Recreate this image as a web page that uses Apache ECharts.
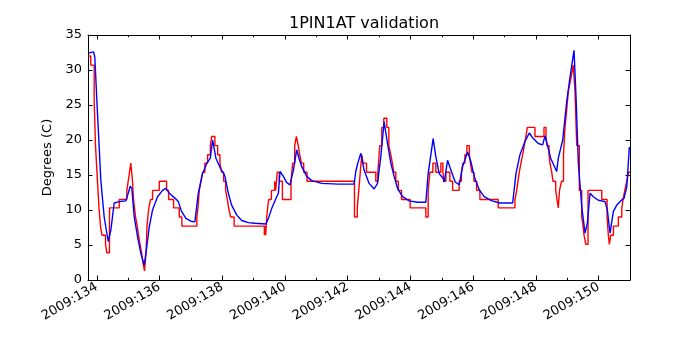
<!DOCTYPE html>
<html>
<head>
<meta charset="utf-8">
<script src="https://cdn.jsdelivr.net/npm/echarts@6/dist/echarts.min.js"></script>
<style>
  html, body { margin: 0; padding: 0; background: #fff; }
  #chart { width: 700px; height: 350px; }
</style>
</head>
<body>
<div id="chart"></div>
<script>
// day-of-year 2009 and temperature (deg C)
const blueDay = [133.735, 133.895, 133.936, 134.022, 134.128, 134.236, 134.364, 134.447, 134.555, 134.715,
  134.926, 135.002, 135.066, 135.117, 135.194, 135.299, 135.404, 135.513, 135.596, 135.673,
  135.778, 135.937, 136.097, 136.202, 136.311, 136.49, 136.598, 136.703, 136.841, 137.0,
  137.128, 137.236, 137.374, 137.511, 137.62, 137.693, 137.798, 137.939, 138.044, 138.086,
  138.194, 138.299, 138.459, 138.619, 138.832, 139.043, 139.394, 139.471, 139.576, 139.736,
  139.79, 139.841, 139.95, 140.055, 140.16, 140.269, 140.374, 140.447, 140.534, 140.693,
  140.853, 141.172, 141.705, 142.203, 142.257, 142.321, 142.417, 142.522, 142.682, 142.841,
  142.95, 143.055, 143.161, 143.269, 143.374, 143.48, 143.588, 143.748, 143.958, 144.227,
  144.491, 144.565, 144.724, 144.811, 144.916, 145.044, 145.076, 145.184, 145.29, 145.427,
  145.554, 145.663, 145.823, 145.928, 146.033, 146.193, 146.352, 146.598, 146.853, 147.259,
  147.364, 147.492, 147.651, 147.789, 147.916, 148.076, 148.216, 148.29, 148.363, 148.472,
  148.663, 148.714, 148.855, 148.982, 149.088, 149.215, 149.279, 149.353, 149.461, 149.567,
  149.64, 149.726, 149.831, 149.991, 150.205, 150.278, 150.364, 150.47, 150.578, 150.706,
  150.811, 150.897, 150.98];
const blueTemp = [32.4, 32.6, 31.9, 23.9, 14.3, 9.0, 5.5, 7.1, 11.0, 11.2,
  11.3, 12.4, 13.4, 13.1, 9.0, 6.2, 3.8, 2.1, 4.8, 7.6,
  10.0, 11.9, 12.8, 13.1, 12.4, 11.7, 11.2, 9.8, 8.8, 8.4,
  8.3, 12.4, 15.2, 16.7, 17.4, 20.0, 17.4, 16.0, 15.2, 14.8,
  12.4, 10.7, 9.3, 8.5, 8.2, 8.1, 8.0, 8.8, 10.2, 11.9,
  12.4, 15.5, 14.8, 13.9, 13.6, 15.7, 18.6, 17.4, 16.2, 14.8,
  14.2, 13.8, 13.7, 13.7, 15.5, 16.7, 18.1, 15.7, 13.8, 13.0,
  13.8, 17.6, 22.6, 19.5, 16.7, 14.8, 13.1, 11.9, 11.3, 11.1,
  11.1, 15.2, 20.2, 17.6, 15.2, 14.5, 14.0, 17.1, 15.7, 14.0,
  13.6, 16.2, 18.3, 16.9, 14.8, 12.9, 11.9, 11.3, 11.0, 11.0,
  15.2, 17.9, 19.8, 21.0, 20.2, 19.5, 19.3, 20.6, 19.3, 17.4,
  15.5, 17.4, 20.0, 25.5, 29.0, 32.8, 26.2, 16.7, 10.5, 6.7,
  8.1, 12.4, 11.9, 11.4, 11.2, 10.0, 6.7, 9.8, 10.7, 11.3,
  11.7, 13.3, 19.0];

// red trace is quantized telemetry, each point starts a new level
const redDay = [133.72, 133.808, 133.917, 133.959, 134.022, 134.07, 134.118, 134.166, 134.198, 134.278,
  134.319, 134.405, 134.715, 134.958, 135.002, 135.044, 135.085, 135.139, 135.171, 135.203,
  135.235, 135.289, 135.331, 135.379, 135.427, 135.468, 135.522, 135.57, 135.602, 135.628,
  135.66, 135.714, 135.778, 135.992, 136.225, 136.289, 136.448, 136.63, 136.713, 137.192,
  137.224, 137.246, 137.268, 137.319, 137.374, 137.447, 137.533, 137.62, 137.661, 137.766,
  137.853, 137.926, 137.98, 138.044, 138.108, 138.162, 138.204, 138.267, 138.379, 139.343,
  139.369, 139.385, 139.417, 139.448, 139.48, 139.567, 139.672, 139.704, 139.752, 139.816,
  139.918, 140.192, 140.246, 140.31, 140.365, 140.422, 140.47, 140.524, 140.597, 140.703,
  142.216, 142.305, 142.353, 142.401, 142.449, 142.49, 142.599, 142.896, 142.96, 143.023,
  143.087, 143.151, 143.247, 143.311, 143.374, 143.422, 143.47, 143.534, 143.614, 143.716,
  143.99, 144.491, 144.565, 144.619, 144.715, 144.811, 144.97, 145.034, 145.066, 145.13,
  145.257, 145.344, 145.554, 145.625, 145.672, 145.736, 145.8, 145.88, 145.912, 145.96,
  146.024, 146.11, 146.215, 146.799, 147.332, 147.387, 147.428, 147.47, 147.524, 147.578,
  147.629, 147.683, 147.725, 147.97, 148.258, 148.322, 148.354, 148.418, 148.449, 148.504,
  148.545, 148.631, 148.673, 148.714, 148.753, 148.816, 148.88, 148.928, 148.982, 149.033,
  149.088, 149.142, 149.193, 149.247, 149.302, 149.384, 149.461, 149.503, 149.535, 149.589,
  149.662, 150.099, 150.269, 150.31, 150.342, 150.387, 150.47, 150.629, 150.738, 150.779,
  150.834, 150.897, 150.955, 151.0];
const redTemp = [32.0, 30.7, 25.6, 19.2, 14.1, 10.3, 7.7, 6.4, 6.4, 5.1,
  3.9, 10.3, 11.5, 12.8, 14.1, 15.4, 16.7, 14.1, 11.5, 10.3,
  9.0, 7.7, 6.4, 5.1, 3.9, 2.6, 1.3, 3.9, 7.7, 9.0,
  10.3, 11.5, 12.8, 14.1, 12.8, 11.5, 10.3, 9.0, 7.7, 9.0,
  10.3, 11.5, 12.8, 14.1, 15.4, 16.7, 17.9, 19.2, 20.5, 19.2,
  17.9, 16.7, 15.4, 14.1, 12.8, 11.5, 10.3, 9.0, 7.7, 6.4,
  7.7, 6.4, 9.0, 10.3, 11.5, 12.8, 14.1, 12.8, 15.4, 14.1,
  11.5, 14.1, 16.7, 19.2, 20.5, 19.2, 17.9, 16.7, 15.4, 14.1,
  9.0, 10.3, 12.8, 15.4, 17.9, 16.7, 15.4, 14.1, 15.4, 19.2,
  21.8, 23.1, 21.8, 19.2, 17.9, 16.7, 15.4, 14.1, 12.8, 11.5,
  10.3, 9.0, 12.8, 15.4, 16.7, 15.4, 16.7, 15.4, 14.1, 15.4,
  14.1, 12.8, 14.1, 15.4, 16.7, 17.9, 19.2, 17.9, 16.7, 15.4,
  14.1, 12.8, 11.5, 10.3, 11.5, 12.8, 14.1, 15.4, 16.7, 17.9,
  19.2, 20.5, 21.8, 20.5, 21.8, 20.5, 19.2, 17.9, 16.7, 15.4,
  14.1, 12.8, 11.5, 10.3, 12.8, 14.1, 17.9, 21.8, 24.3, 26.9,
  28.2, 29.5, 30.7, 26.9, 19.2, 12.8, 9.0, 7.7, 6.4, 5.1,
  12.8, 11.5, 9.0, 6.4, 5.1, 6.4, 7.7, 9.0, 10.3, 11.5,
  12.8, 14.1, 15.4, 15.4];

const majorDays = [134, 136, 138, 140, 142, 144, 146, 148, 150];
const minorDays = [135, 137, 139, 141, 143, 145, 147, 149];

const font = 'DejaVu Sans';
const xMin = 133.72, xMax = 151.0;

function dayAxis(position, ticks, tickLen, withLabels, withLine) {
  return {
    type: 'value',
    position: position,
    min: xMin,
    max: xMax,
    splitLine: { show: false },
    axisLine: { show: withLine, lineStyle: { color: '#000', width: 1 } },
    axisTick: {
      show: true, inside: true, length: tickLen, customValues: ticks,
      lineStyle: { color: '#000', width: 1 }
    },
    axisLabel: withLabels ? {
      show: true, customValues: ticks, rotate: 30, margin: 6,
      fontFamily: font, fontSize: 13, color: '#000',
      formatter: (v) => '2009:' + v
    } : { show: false }
  };
}

function tempAxis(position, withLabels) {
  return {
    type: 'value',
    position: position,
    min: 0,
    max: 35,
    interval: 5,
    splitLine: { show: false },
    axisLine: { show: true, lineStyle: { color: '#000', width: 1 } },
    axisTick: { show: true, inside: true, length: 4.5, lineStyle: { color: '#000', width: 1 } },
    name: withLabels ? 'Degrees (C)' : '',
    nameLocation: 'middle',
    nameGap: 31,
    nameTextStyle: { fontFamily: font, fontSize: 13, color: '#000' },
    axisLabel: withLabels ? { show: true, margin: 6, fontFamily: font, fontSize: 13, color: '#000' } : { show: false }
  };
}

const chart = echarts.init(document.getElementById('chart'), null, { renderer: 'canvas' });

chart.setOption({
  backgroundColor: '#fff',
  animation: false,
  title: {
    text: '1PIN1AT validation',
    left: 359,
    top: 11,
    textAlign: 'center',
    textStyle: { fontFamily: font, fontSize: 16, fontWeight: 'normal', color: '#000' }
  },
  grid: { left: 88, right: 70, top: 35, bottom: 70, containLabel: false },
  xAxis: [
    dayAxis('bottom', majorDays, 4.5, true, true),
    dayAxis('bottom', minorDays, 2.2, false, false),
    dayAxis('top', majorDays, 4.5, false, true),
    dayAxis('top', minorDays, 2.2, false, false)
  ],
  yAxis: [
    tempAxis('left', true),
    tempAxis('right', false)
  ],
  series: [
    {
      name: 'telemetry',
      type: 'line',
      step: 'end',
      xAxisIndex: 0,
      yAxisIndex: 0,
      showSymbol: false,
      data: redDay.map((d, i) => [d, redTemp[i]]),
      lineStyle: { color: '#ff0000', width: 1.4 }
    },
    {
      name: 'model',
      type: 'line',
      xAxisIndex: 0,
      yAxisIndex: 0,
      showSymbol: false,
      data: blueDay.map((d, i) => [d, blueTemp[i]]),
      lineStyle: { color: '#0000ff', width: 1.4 }
    }
  ]
});
</script>
</body>
</html>
